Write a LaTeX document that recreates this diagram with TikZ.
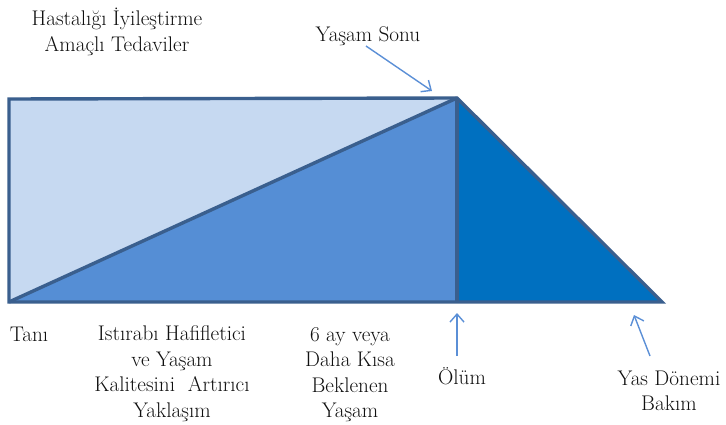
\documentclass[tikz,border=0pt]{standalone}
\usepackage{fontspec}
\usetikzlibrary{arrows.meta}
\definecolor{lightfill}{HTML}{C6D9F1}
\definecolor{midfill}{HTML}{558ED5}
\definecolor{darkfill}{HTML}{0070C0}
\definecolor{edgeblue}{HTML}{3A5F8E}
\definecolor{arrowblue}{HTML}{5B8FD6}
\definecolor{txt}{HTML}{101010}
\tikzset{
  lbl/.style={text=txt, align=center, inner sep=0pt, font=\fontsize{21.2}{25.5}\selectfont},
  pointer/.style={draw=arrowblue, line width=1.4pt, -{Straight Barb[length=8pt,width=14pt,line width=1.4pt]}},
  edge/.style={draw=edgeblue, line width=3.4pt, line join=miter}
}
\begin{document}
\begin{tikzpicture}[x=1pt,y=-1pt]
\useasboundingbox (0,0) rectangle (726,425);
% corner points
\coordinate (tl) at (9,99);
\coordinate (bl) at (9,302);
\coordinate (apex) at (457,98);
\coordinate (foot) at (457,302);
\coordinate (br) at (662,302);
% fills
\fill[lightfill] (tl) -- (apex) -- (bl) -- cycle;
\fill[midfill] (bl) -- (apex) -- (foot) -- cycle;
\fill[darkfill] (apex) -- (foot) -- (br) -- cycle;
% outlines
\draw[edge] (tl) -- (apex) -- (br) -- (bl) -- cycle;
\draw[edge] (apex) -- (foot);
\draw[edge] (bl) -- (apex);
% labels
\node[lbl] (cure) at (117,32) {Hastalığı İyileştirme\\Amaçlı Tedaviler};
\node[lbl] (eol) at (368,36) {Yaşam Sonu};
\node[lbl] (tani) at (29,334) {Tanı};
\node[lbl] (pall) at (172,373.5) {Istırabı Hafifletici\\ve Yaşam\\Kalitesini\ \ Artırıcı\\Yaklaşım};
\node[lbl] (six) at (350,374.5) {6 ay veya\\Daha Kısa\\Beklenen\\Yaşam};
\node[lbl] (death) at (462,376) {Ölüm};
\node[lbl] (grief) at (669,391) {Yas Dönemi\\Bakım};
% arrows
\coordinate (eolS) at (366,46);
\coordinate (eolT) at (432,91);
\coordinate (deathS) at (457,356);
\coordinate (deathT) at (457,313);
\coordinate (griefS) at (650,356);
\coordinate (griefT) at (634,315);
\draw[pointer] (eolS) -- (eolT);
\draw[pointer] (deathS) -- (deathT);
\draw[pointer] (griefS) -- (griefT);
\end{tikzpicture}
\end{document}
